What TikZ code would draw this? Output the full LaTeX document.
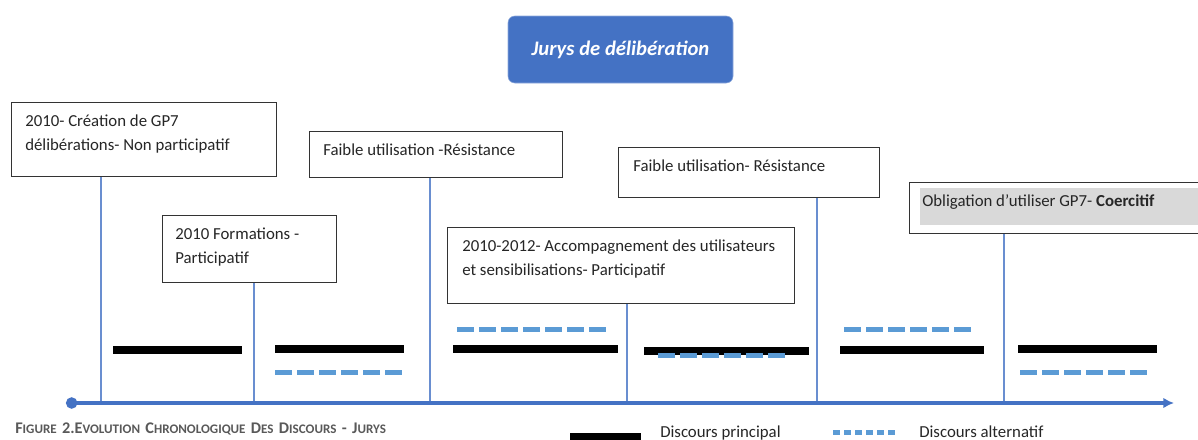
\documentclass[tikz,border=0pt]{standalone}
\usepackage{fontspec}
\setmainfont{Carlito}
\usetikzlibrary{positioning, arrows.meta}

\definecolor{jurblue}{HTML}{4472C4}
\definecolor{altblue}{HTML}{5B9BD5}
\definecolor{capgray}{HTML}{595959}
\definecolor{notegray}{HTML}{D9D9D9}

\newcommand{\px}[1]{#1*0.75pt}
\newcommand{\capsc}[2]{{\fontsize{12.2}{13}\selectfont #1}{\fontsize{9.8}{10}\selectfont #2}}

\tikzset{
  eventbox/.style={draw=black!80, line width=1.1pt, fill=white, anchor=north west, inner sep=0pt},
  eventtext/.style={anchor=north west, align=left, inner sep=0pt, text=black!85, font=\fontsize{12.6}{18}\selectfont},
  legendtext/.style={anchor=base west, inner sep=0pt, text=black!85, font=\fontsize{12.6}{18}\selectfont},
  tick/.style={draw=jurblue!80, line width=1pt},
  mainbar/.style={line width=6pt, black},
  altbar/.style={line width=3.75pt, altblue, dash pattern=on 12.75pt off 3.75pt},
}

\begin{document}
\begin{tikzpicture}[x=0.75pt, y=-0.75pt]
\useasboundingbox (0,0) rectangle (1198,439);

% Title
\node[fill=jurblue, draw=jurblue!60, rounded corners=5pt, minimum width=\px{225}, minimum height=\px{67},
      text=white, font=\fontsize{15.5}{16}\selectfont\bfseries\itshape] (title) at (620.5,49.5) {Jurys de délibération};

% Event boxes
\node[eventbox, minimum width=\px{265}, minimum height=\px{74}] (b1) at (11,102) {};
\node[eventbox, minimum width=\px{174}, minimum height=\px{67}] (b2) at (162,215) {};
\node[eventbox, minimum width=\px{253}, minimum height=\px{46}] (b3) at (309,131) {};
\node[eventbox, minimum width=\px{347}, minimum height=\px{76}] (b4) at (447,227) {};
\node[eventbox, minimum width=\px{261}, minimum height=\px{50}] (b5) at (618,147) {};
\node[eventbox, minimum width=\px{300}, minimum height=\px{51}] (b6) at (909,182) {};
\fill[notegray] (920,188) rectangle (1198,225);

% Box texts
\node[eventtext] (b1t) at ([shift={(14,7)}]b1.north west) {\strut 2010- Création de GP7\\délibérations- Non participatif};
\node[eventtext] (b2t) at ([shift={(13,7)}]b2.north west) {\strut 2010 Formations -\\Participatif};
\node[eventtext] (b3t) at ([shift={(14,7)}]b3.north west) {\strut Faible utilisation -Résistance};
\node[eventtext] (b4t) at ([shift={(15,7)}]b4.north west) {\strut 2010-2012- Accompagnement des utilisateurs\\et sensibilisations- Participatif};
\node[eventtext] (b5t) at ([shift={(15,7)}]b5.north west) {\strut Faible utilisation- Résistance};
\node[eventtext] (b6t) at ([shift={(13,7)}]b6.north west) {\strut Obligation d’utiliser GP7- \textbf{Coercitif}};

% Ticks down to the time axis
\foreach \bx/\tx [count=\i] in {b1/101, b2/254, b3/430, b4/627, b5/817, b6/1004} {
  \coordinate (t\i) at (\tx,403);
  \draw[tick] (t\i |- \bx.south) -- (t\i);
}

% Time axis
\coordinate (axL) at (66,403);
\coordinate (axR) at (1174,403);
\draw[line width=2.5pt, jurblue, {Circle[length=8.5pt]}-{Latex[length=8pt, width=8pt]}] (axL) -- (axR);

% Main discourse bars
\foreach \xa/\xb/\yy in {113/242/350, 275/404/349, 453/618/349, 644/809/351, 840/984/350, 1018/1157/349}
  \draw[mainbar] (\xa,\yy) -- (\xb,\yy);

% Alternative discourse bars
\foreach \xa/\xb/\yy in {275/402/372, 457/609/329, 658/785/355, 844/971/329, 1020/1147/372}
  \draw[altbar] (\xa,\yy) -- (\xb,\yy);

% Legend
\fill[black] (570,433) rectangle (641,445);
\node[legendtext] (lgmain) at (660,437) {Discours principal};
\draw[line width=3.75pt, altblue, dash pattern=on 5.25pt off 3pt] (833,432) -- (895,432);
\node[legendtext] (lgalt) at (919,437) {Discours alternatif};

% Caption
\node[anchor=base west, inner sep=0pt, text=capgray, font=\bfseries] (caption) at (15,433)
  {\makebox[278pt][s]{\capsc{F}{IGURE}\hfill{\fontsize{12.2}{13}\selectfont 2.}\capsc{E}{VOLUTION}\hfill\capsc{C}{HRONOLOGIQUE}\hfill\capsc{D}{ES}\hfill\capsc{D}{ISCOURS}\hfill{\fontsize{12.2}{13}\selectfont -}\hfill\capsc{J}{URYS}}};

\end{tikzpicture}
\end{document}
